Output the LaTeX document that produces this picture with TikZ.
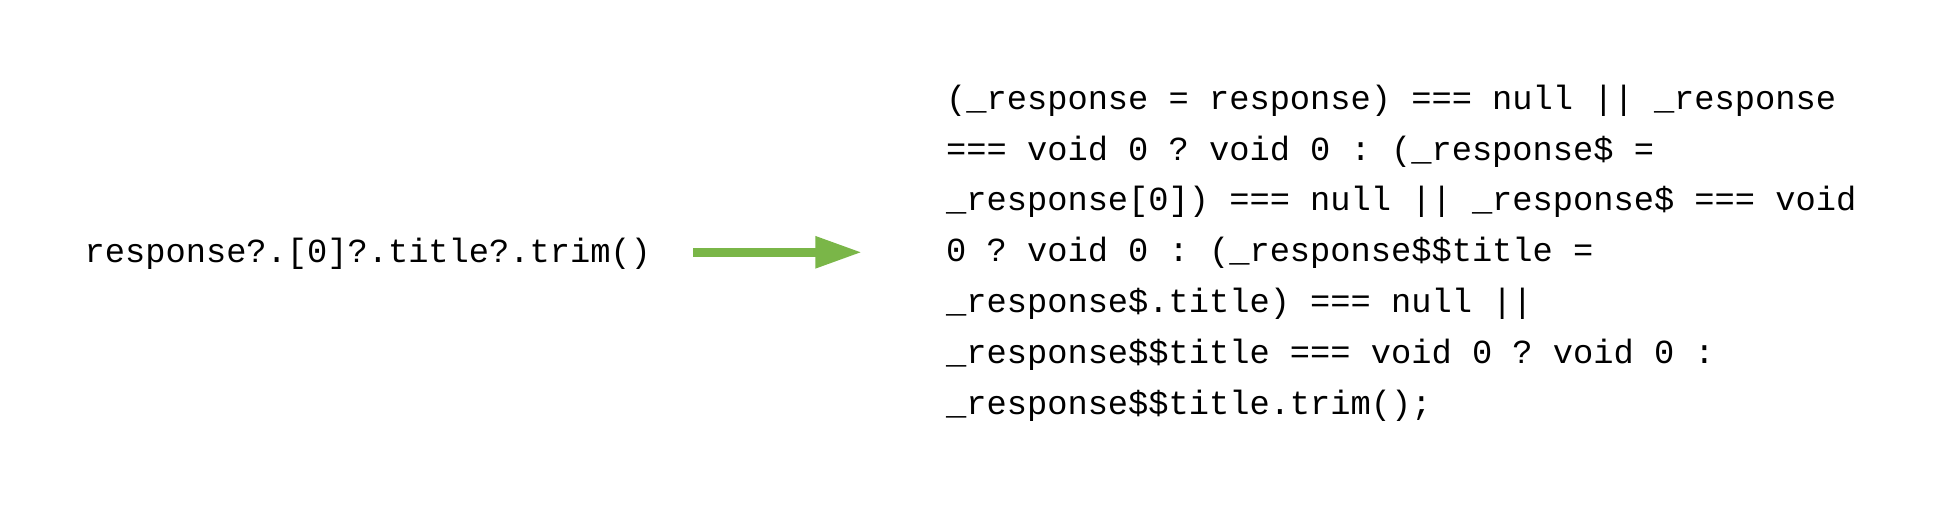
\documentclass[tikz,border=0pt]{standalone}
\usepackage{fontspec}
\setmonofont{Liberation Mono}
\usetikzlibrary{arrows.meta}
\definecolor{arrowgreen}{HTML}{7AB648}

\begin{document}
\begin{tikzpicture}
    \pgfmathsetmacro{\picwidth}{19.5}
    \pgfmathsetmacro{\picheight}{5.06}
    \pgfmathsetmacro{\arrowy}{2.537}
    \providecommand{\codefontsize}{\fontsize{9.59pt}{14.51pt}\selectfont}
    \useasboundingbox (0,0) rectangle (\picwidth,\picheight);
    % optional chaining on the left, compiled output on the right
    \node[anchor=base west,inner sep=0,font=\codefontsize\ttfamily](source) at (0.84,2.43) {response?.[0]?.title?.trim()};
    \node[anchor=base west,inner sep=0,align=left,font=\codefontsize\ttfamily](target) at (9.455,0.91)
    {(\_response = response) === null || \_response\\
    === void 0 ? void 0 : (\_response\$ =\\
    \_response[0]) === null || \_response\$ === void\\
    0 ? void 0 : (\_response\$\$title =\\
    \_response\$.title) === null ||\\
    \_response\$\$title === void 0 ? void 0 :\\
    \_response\$\$title.trim();};
    \coordinate (arrowstart) at (6.93,\arrowy);
    \coordinate (arrowtip) at (8.62,\arrowy);
    \draw[arrowgreen,line width=0.087cm,-{Triangle[length=4.67mm,width=3mm]}] (arrowstart) -- (arrowtip);
\end{tikzpicture}
\end{document}
